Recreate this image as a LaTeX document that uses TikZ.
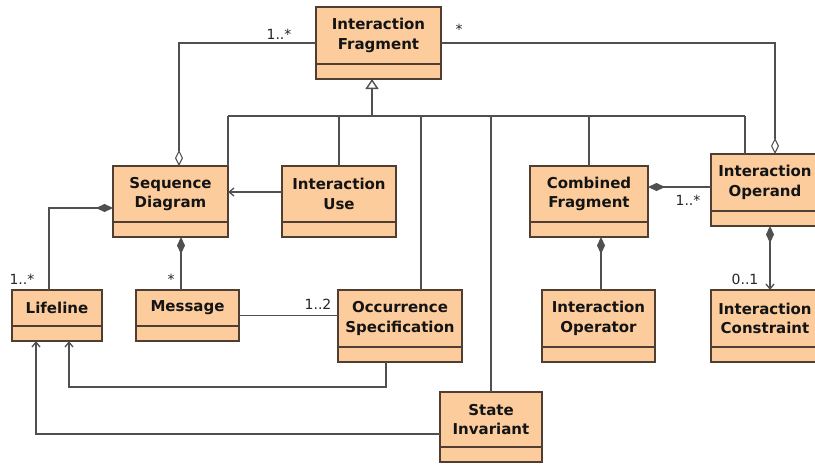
\documentclass[tikz,border=0pt]{standalone}
\usepackage{fontspec}
\setmainfont{DejaVu Sans}
\usetikzlibrary{arrows.meta,calc}
\definecolor{boxfill}{RGB}{252,204,156}
\definecolor{boxline}{RGB}{80,62,50}
\definecolor{connc}{RGB}{80,80,80}
\newcommand\umlclass[6]{%
  \node[clsbox, minimum width={#4-#2}, minimum height={#5-#3}] (#1) at ({(#2+#4)/2},{(#3+#5)/2}) {};
  \draw[clsdiv] ([yshift=15pt]#1.south west) -- ([yshift=15pt]#1.south east);
  \node[clstext] (#1t) at ($(#1.north)!0.5!([yshift=15pt]#1.south)$) {#6};
}
\begin{document}
\begin{tikzpicture}[x=1pt,y=-1pt,
  clsbox/.style={draw=boxline, fill=boxfill, line width=1.2pt, inner sep=0pt, outer sep=0pt},
  clsdiv/.style={draw=boxline, line width=1.2pt},
  clstext/.style={font=\bfseries\fontsize{15}{19.5}\selectfont, align=center, inner sep=0pt, text=black!92},
  conn/.style={draw=connc, line width=1.3pt},
  mult/.style={font=\fontsize{14}{14}\selectfont, inner sep=0pt, text=black!85},
  agg/.style={conn, -{Diamond[fill=white,length=16pt,width=8pt,line width=1.1pt]}},
  comp/.style={conn, {Diamond[fill=connc,length=17pt,width=8pt]}-},
  compnav/.style={conn, {Diamond[fill=connc,length=17pt,width=8pt]}-{Straight Barb[length=5pt,width=8pt]}},
  nav/.style={conn, -{Straight Barb[length=5pt,width=8pt]}},
  inh/.style={conn, line width=1.8pt, -{Triangle[fill=white,length=10pt,width=13pt,line width=1.4pt]}}
]
\useasboundingbox (0,0) rectangle (815,464);
\fill[white] (0,0) rectangle (815,464);

% classes
\umlclass{IF}{316}{7}{441}{79}{Interaction\\Fragment}
\umlclass{SD}{113}{166}{228}{237}{Sequence\\Diagram}
\umlclass{IU}{282}{166}{396}{237}{Interaction\\Use}
\umlclass{CF}{530}{166}{648}{237}{Combined\\Fragment}
\umlclass{IO}{711}{154}{819}{226}{Interaction\\Operand}
\umlclass{LL}{12}{290}{102}{341}{Lifeline}
\umlclass{MSG}{136}{290}{239}{341}{Message}
\umlclass{OS}{338}{290}{462}{362}{Occurrence\\Specification}
\umlclass{IOP}{542}{290}{655}{362}{Interaction\\Operator}
\umlclass{IC}{711}{290}{819}{362}{Interaction\\Constraint}
\umlclass{SI}{440}{392}{542}{462}{State\\Invariant}

% generalization tree
\coordinate (bus) at (372,116);
\coordinate (ioB) at ([xshift=34pt]IO.north west);
\coordinate (osB) at ([xshift=83pt]OS.north west);
\draw[inh] (bus) -- (IF.south -| bus);
\draw[conn] (SD.north east |- bus) -- (ioB |- bus);
\draw[conn] (SD.north east |- bus) -- (SD.north east);
\draw[conn] (IU.north |- bus) -- (IU.north);
\draw[conn] (osB |- bus) -- (osB);
\draw[conn] (SI.north |- bus) -- (SI.north);
\draw[conn] (CF.north |- bus) -- (CF.north);
\draw[conn] (ioB |- bus) -- (ioB);

% aggregations
\coordinate (sdA) at ([xshift=8.5pt]SD.north);
\coordinate (ioA) at ([xshift=10pt]IO.north);
\draw[agg] (IF.west) -| (sdA);
\draw[agg] (IF.east) -| (ioA);

% compositions
\coordinate (sdL) at ([yshift=-6.5pt]SD.west);
\coordinate (llA) at ([xshift=-8pt]LL.north);
\draw[comp] (sdL) -| (llA);
\coordinate (sdB) at ([xshift=10.5pt]SD.south);
\draw[comp] (sdB) -- (MSG.north -| sdB);
\coordinate (cfR) at ([yshift=14.5pt]CF.east);
\draw[comp] (cfR) -- (IO.west |- cfR);
\coordinate (cfB) at ([xshift=12pt]CF.south);
\draw[comp] (cfB) -- (IOP.north -| cfB);
\coordinate (ioD) at ([xshift=5pt]IO.south);
\draw[compnav] (ioD) -- (IC.north -| ioD);

% associations / navigations
\coordinate (iuL) at ([yshift=9.5pt]IU.west);
\draw[nav] (iuL) -- (SD.east |- iuL);
\draw[conn] (MSG.east) -- (OS.west |- MSG.east);
\coordinate (osD) at ([xshift=-14pt]OS.south);
\coordinate (llB1) at ([xshift=12pt]LL.south);
\draw[nav] (osD) -- ++(0,25) -| (llB1);
\coordinate (siL) at ([yshift=-7pt]SI.west);
\coordinate (llB2) at ([xshift=-21pt]LL.south);
\draw[nav] (siL) -| (llB2);

% multiplicities
\node[mult] (m1) at (279,34) {1..*};
\node[mult] (m2) at (459,29) {*};
\node[mult] (m3) at (22,279) {1..*};
\node[mult] (m4) at (171,279) {*};
\node[mult] (m5) at (318,304) {1..2};
\node[mult] (m6) at (688,200) {1..*};
\node[mult] (m7) at (745,279) {0..1};
\end{tikzpicture}
\end{document}
